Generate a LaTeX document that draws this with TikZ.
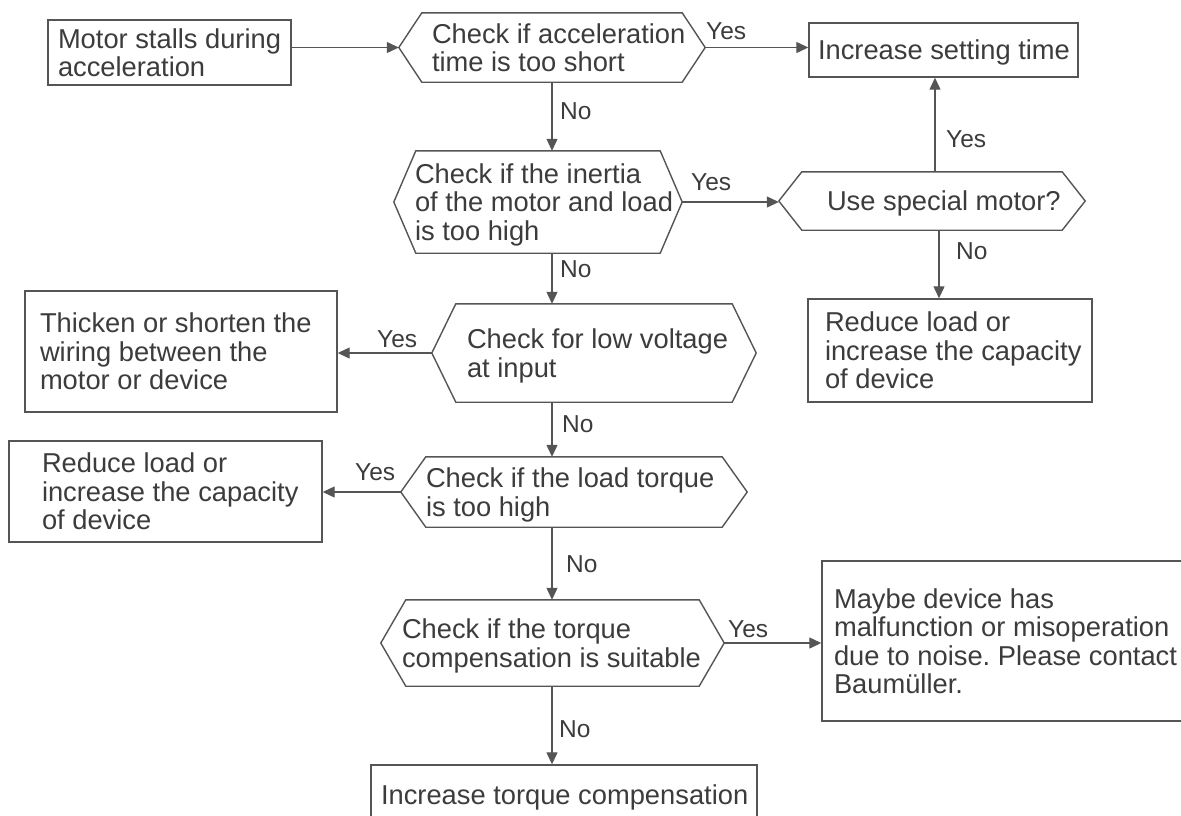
\documentclass[tikz,border=0pt]{standalone}
\usepackage{fontspec}
\setmainfont{Liberation Sans}
\usetikzlibrary{arrows.meta,calc}
\frenchspacing
\definecolor{txt}{HTML}{3C3C3C}
\definecolor{ln}{HTML}{555555}
\newcommand\ltext[2]{\makebox[#1pt][l]{\begin{tabular}[b]{@{}l@{}}#2\end{tabular}}}
\newcommand\hexframe[2]{\draw[hexline] ($(#1.north west)+(#2,0)$) -- ($(#1.north east)+(-#2,0)$) -- (#1.east) -- ($(#1.south east)+(-#2,0)$) -- ($(#1.south west)+(#2,0)$) -- (#1.west) -- cycle;}
\tikzset{
  basen/.style={font=\fontsize{27.3pt}{28.5pt}\selectfont\frenchspacing, text=txt, inner ysep=0pt, text depth=0pt, minimum width=0pt},
  boxn/.style={basen, draw=ln, line width=1.4pt, rectangle},
  hexn/.style={basen, draw=none, rectangle},
  one/.style={text height=19.7pt},
  two/.style={text height=48.2pt},
  three/.style={text height=76.7pt},
  four/.style={text height=105.2pt},
  lab/.style={font=\fontsize{24.5pt}{26pt}\selectfont, text=txt, inner sep=0pt, anchor=base west},
  arr/.style={draw=ln, line width=1.2pt, -{Triangle[length=12pt,width=11pt]}},
  hexline/.style={draw=ln, line width=1.4pt, line join=miter}
}
\begin{document}
\begin{tikzpicture}[x=1pt,y=-1pt]
\useasboundingbox (0,0) rectangle (1181,815);
\fill[white] (0,0) rectangle (1181,815);
\clip (0,0) rectangle (1181,815);

% boxes
\node[boxn, two, minimum height=65pt, inner xsep=10pt] (b1) at (169.5,52.5) {\ltext{223}{Motor stalls during\\acceleration}};
\node[boxn, one, minimum height=54pt, inner xsep=9pt] (s1) at (943.5,50) {\ltext{251}{Increase setting time}};
\node[boxn, three, minimum height=103pt, inner xsep=17pt] (r1) at (950,350.5) {\ltext{250}{Reduce load or\\increase the capacity\\of device}};
\node[boxn, three, minimum height=121pt, inner xsep=15pt] (t1) at (181,351.5) {\ltext{282}{Thicken or shorten the\\wiring between the\\motor or device}};
\node[boxn, three, minimum height=101pt, inner xsep=33pt] (r2) at (165.5,491.5) {\ltext{247}{Reduce load or\\increase the capacity\\of device}};
\node[boxn, four, minimum height=160pt, inner xsep=12pt] (m1) at (1011,641) {\ltext{354}{Maybe device has\\malfunction or misoperation\\due to noise. Please contact\\Baumüller.}};
\node[boxn, one, minimum height=60pt, inner xsep=10pt] (e1) at (564,795) {\ltext{366}{Increase torque compensation}};

% decisions
\node[hexn, two, minimum height=69pt, inner xsep=33pt] (h1) at (552,47.5) {\ltext{240}{Check if acceleration\\time is too short}};
\node[hexn, three, minimum height=102pt, inner xsep=21pt] (h2) at (538,202) {\ltext{246}{Check if the inertia\\of the motor and load\\is too high}};
\node[hexn, one, minimum height=58pt, inner xsep=48pt] (h3) at (932,201) {\ltext{210}{Use special motor?}};
\node[hexn, two, minimum height=98pt, inner xsep=35pt] (h4) at (594,353) {\ltext{254}{Check for low voltage\\at input}};
\node[hexn, two, minimum height=70pt, inner xsep=25pt] (h5) at (574,492) {\ltext{296}{Check if the load torque\\is too high}};
\node[hexn, two, minimum height=86pt, inner xsep=21pt] (h6) at (552.5,643) {\ltext{301}{Check if the torque\\compensation is suitable}};
\hexframe{h1}{23}
\hexframe{h2}{22}
\hexframe{h3}{23}
\hexframe{h4}{24}
\hexframe{h5}{25}
\hexframe{h6}{25}

% connectors
\draw[arr] (b1.east |- h1.west) -- (h1.west);
\draw[arr] (h1.east) -- (h1.east -| s1.west);
\draw[arr] (h1.south) -- (h1.south |- h2.north);
\draw[arr] (h2.east) -- (h2.east -| h3.west);
\draw[arr] ([xshift=3pt]h3.north) -- ([xshift=3pt]h3.north |- s1.south);
\draw[arr] ([xshift=7pt]h3.south) -- ([xshift=7pt]h3.south |- r1.north);
\draw[arr] (h2.south -| h1.south) -- (h4.north -| h1.south);
\draw[arr] (h4.west) -- (h4.west -| t1.east);
\draw[arr] (h4.south -| h1.south) -- (h5.north -| h1.south);
\draw[arr] (h5.west) -- (h5.west -| r2.east);
\draw[arr] (h5.south -| h1.south) -- (h6.north -| h1.south);
\draw[arr] (h6.east) -- (h6.east -| m1.west);
\draw[arr] (h6.south -| h1.south) -- (e1.north -| h1.south);

% labels
\node[lab] (y1) at (706,39) {Yes};
\node[lab] (n1) at (560,119) {No};
\node[lab] (y2) at (691,190) {Yes};
\node[lab] (n2) at (560,277) {No};
\node[lab] (y3) at (946,147) {Yes};
\node[lab] (n3) at (956,259) {No};
\node[lab] (y4) at (377,347) {Yes};
\node[lab] (n4) at (562,432) {No};
\node[lab] (y5) at (355,480) {Yes};
\node[lab] (n5) at (566,572) {No};
\node[lab] (y6) at (728,637) {Yes};
\node[lab] (n6) at (559,737) {No};
\end{tikzpicture}
\end{document}
